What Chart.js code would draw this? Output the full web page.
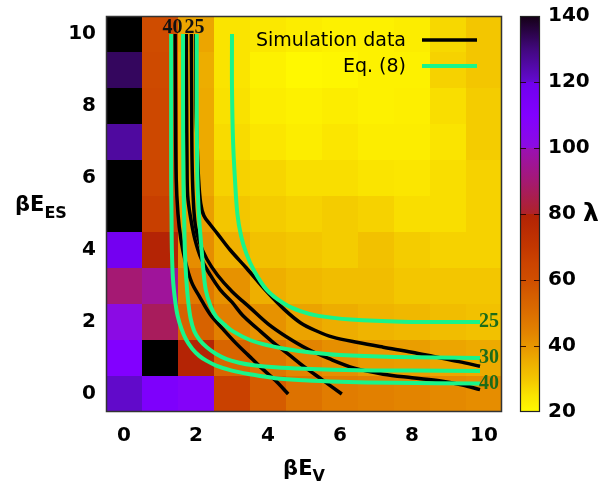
<!DOCTYPE html>
<html><head><meta charset="utf-8">
<script src="https://cdn.jsdelivr.net/npm/chart.js@4/dist/chart.umd.min.js"></script>
<style>html,body{margin:0;padding:0;background:#fff;overflow:hidden}</style>
</head><body>
<canvas id="c" width="613" height="483"></canvas>
<script>
// ---- categories / ticks ----
const xCategories = [0,1,2,3,4,5,6,7,8,9,10];
const yCategories = [0,1,2,3,4,5,6,7,8,9,10];
const axisTicks = [0,2,4,6,8,10];
const colorbarTicks = [20,40,60,80,100,120,140];

// ---- lambda values per row (beta E_ES = 0 .. 10), columns beta E_V = 0 .. 10 ----
const lambdaY0  = [121,112,108, 66, 56, 49, 46, 45, 44, 43, 42];
const lambdaY1  = [110,150, 79, 53, 48, 44,41.5,39,38.5,37, 36];
const lambdaY2  = [101, 87, 54, 45, 41,37.5,35.5,34, 33, 32, 31];
const lambdaY3  = [ 90, 96, 47, 41, 35, 33, 32, 32, 30, 30, 30];
const lambdaY4  = [118, 79, 42,34.5,31, 30, 29, 31, 29, 28, 28];
const lambdaY5  = [150, 67,38.5,30, 29, 28, 29, 28, 26, 26, 28];
const lambdaY6  = [150, 64,36.5,28,27.5,26, 26, 25,24.5,26, 28];
const lambdaY7  = [126, 63, 36,26.5,24.5,23,24.5,23, 23, 25, 29];
const lambdaY8  = [150, 63, 36,25.5,23, 22, 23, 22,22.5,26, 29];
const lambdaY9  = [133, 62,35.5,25, 22,20.5,21, 22, 22, 28, 30];
const lambdaY10 = [150, 61, 37, 25, 24, 23, 22, 22, 23, 27, 30];
const lambdaRows = [lambdaY0,lambdaY1,lambdaY2,lambdaY3,lambdaY4,lambdaY5,lambdaY6,lambdaY7,lambdaY8,lambdaY9,lambdaY10];

// ---- simulation contours (black) ----
const simCurveA = [[1.42,10],[1.43,8],[1.45,6],[1.5,5],[1.58,4.3],[1.7,3.7],[1.88,3.1],[2.1,2.7],[2.4,2.2],[2.75,1.8],[3.1,1.42],[3.45,1.08],[3.8,0.74],[4.2,0.38],[4.56,0]];
const simCurveB = [[1.73,10],[1.74,8],[1.75,6.5],[1.77,5.5],[1.85,4.9],[1.97,4.3],[2.15,3.75],[2.4,3.3],[2.67,2.9],[3.0,2.55],[3.3,2.18],[3.7,1.82],[4.1,1.47],[4.6,1.08],[5.0,0.76],[5.5,0.4],[6.05,0]];
const simCurveC = [[1.87,10],[1.88,8],[1.89,6.5],[1.92,5.5],[1.98,4.7],[2.1,4.2],[2.3,3.75],[2.6,3.3],[3.0,2.85],[3.5,2.4],[4.0,1.95],[4.5,1.6],[5.1,1.25],[5.7,0.98],[6.4,0.72],[7.2,0.55],[8.0,0.45],[8.8,0.36],[9.4,0.25],[9.89,0.12]];
const simCurveD = [[1.99,10],[2.0,8],[2.03,7],[2.07,6],[2.13,5.3],[2.22,4.95],[2.4,4.7],[2.6,4.45],[2.95,4.0],[3.4,3.5],[3.96,2.85],[4.45,2.35],[4.9,1.98],[5.35,1.75],[5.8,1.58],[6.5,1.43],[7.2,1.3],[8.0,1.16],[8.6,1.04],[9.3,0.9],[9.89,0.77]];

// ---- Eq. (8) curves (green) ----
const eqCurve40 = [[1.31,10],[1.31,8],[1.31,6],[1.32,5],[1.33,4],[1.36,3.2],[1.42,2.6],[1.49,2.17],[1.6,1.8],[1.72,1.52],[1.9,1.25],[2.09,1.06],[2.3,0.92],[2.56,0.79],[3.0,0.65],[3.5,0.55],[4.2,0.44],[5.0,0.38],[6.0,0.34],[7.5,0.31],[9.89,0.29]];
const eqCurve35 = [[1.64,10],[1.64,8],[1.65,6],[1.67,5],[1.69,4],[1.73,3.2],[1.78,2.6],[1.85,2.1],[1.95,1.75],[2.1,1.5],[2.3,1.3],[2.55,1.12],[2.85,0.97],[3.2,0.87],[3.6,0.8],[4.2,0.74],[5.0,0.7],[6.5,0.66],[8.0,0.65],[9.89,0.64]];
const eqCurve30 = [[2.02,10],[2.02,8],[2.04,6],[2.08,5],[2.14,4.2],[2.2,3.5],[2.27,2.9],[2.4,2.45],[2.56,2.15],[2.8,1.92],[3.03,1.74],[3.5,1.5],[4.0,1.35],[4.5,1.25],[5.2,1.15],[6.0,1.08],[7.5,1.03],[9.89,1.0]];
const eqCurve25 = [[3.0,10],[3.0,8.5],[3.03,7],[3.08,6],[3.15,5],[3.25,4.4],[3.4,3.9],[3.6,3.45],[3.96,2.9],[4.43,2.52],[4.9,2.3],[5.4,2.17],[6.3,2.07],[7.7,2.01],[9.89,2.0]];

// ---- contour labels ----
const topLabels = ['40','25'];
const topLabelX = [1.35,1.96];
const topLabelY = [10.18,10.18];
const sideLabels = ['25','30','40'];
const sideLabelX = [10.14,10.14,10.14];
const sideLabelY = [2.0,1.0,0.29];

// ---- palette stops (value -> rgb) ----
const paletteValues = [20,25,30,35,40,45,50,55,60,65,70,80,80.01,90,100,100.01,110,120,120.01,130,140];
const paletteColors = [[255,250,0],[250,228,0],[243,198,0],[238,175,0],[232,150,0],[226,128,0],[220,110,0],[214,95,0],[208,78,0],[203,68,0],[195,55,0],[178,34,5],[175,35,40],[165,25,115],[155,16,180],[140,12,225],[130,0,255],[112,0,238],[100,10,210],[65,8,125],[20,0,20]];

function colorFor(v){
  if (v > 140) return 'rgb(0,0,0)';
  if (v <= paletteValues[0]) return 'rgb('+paletteColors[0].join(',')+')';
  for (let k=1;k<paletteValues.length;k++){
    if (v <= paletteValues[k]){
      const t=(v-paletteValues[k-1])/(paletteValues[k]-paletteValues[k-1]);
      const a=paletteColors[k-1], b=paletteColors[k];
      return 'rgb('+a.map((c,i)=>Math.round(c+(b[i]-c)*t)).join(',')+')';
    }
  }
  return 'rgb('+paletteColors[paletteColors.length-1].join(',')+')';
}

const toPts = arr => arr.map(p=>({x:p[0],y:p[1]}));
const BLACK='#000000', GREEN='#18f58a';

const tickFont = {family:'"DejaVu Sans"', size:20, weight:'bold'};

const heatmapPlugin = {
  id:'heatmap',
  beforeDatasetsDraw(chart){
    const {ctx, scales:{x,y,cb}} = chart;
    ctx.save();
    lambdaRows.forEach((row,j)=>row.forEach((v,i)=>{
      const x0=Math.round(x.getPixelForValue(xCategories[i]-0.5));
      const x1=Math.round(x.getPixelForValue(xCategories[i]+0.5));
      const y0=Math.round(y.getPixelForValue(yCategories[j]+0.5));
      const y1=Math.round(y.getPixelForValue(yCategories[j]-0.5));
      ctx.fillStyle=colorFor(v);
      ctx.fillRect(x0,y0,x1-x0,y1-y0);
    }));
    // colorbar
    const bx = cb.left+18, bw = 20;
    const yTop = cb.getPixelForValue(140), yBot = cb.getPixelForValue(20);
    const g = ctx.createLinearGradient(0,yBot,0,yTop);
    paletteValues.forEach((v,k)=>g.addColorStop((v-20)/120,'rgb('+paletteColors[k].join(',')+')'));
    ctx.fillStyle=g;
    ctx.fillRect(bx,yTop,bw,yBot-yTop);
    ctx.strokeStyle='#222'; ctx.lineWidth=1.2;
    ctx.strokeRect(bx+0.5,yTop+0.5,bw-1,yBot-yTop-1);
    ctx.strokeStyle='rgba(30,0,0,0.85)'; ctx.lineWidth=1;
    colorbarTicks.slice(1,-1).forEach(v=>{
      const py=Math.round(cb.getPixelForValue(v))+0.5;
      ctx.beginPath();
      ctx.moveTo(bx,py); ctx.lineTo(bx+6,py);
      ctx.moveTo(bx+bw-6,py); ctx.lineTo(bx+bw,py);
      ctx.stroke();
    });
    ctx.restore();
  },
  afterDatasetsDraw(chart){
    const {ctx, chartArea:a, scales:{x,y,cb}} = chart;
    ctx.save();
    // contour labels
    ctx.font='bold 20px "Liberation Serif"';
    ctx.textAlign='center'; ctx.textBaseline='middle';
    ctx.fillStyle='#111';
    topLabels.forEach((t,k)=>ctx.fillText(t,x.getPixelForValue(topLabelX[k]),y.getPixelForValue(topLabelY[k])));
    ctx.fillStyle='#1d6b18';
    sideLabels.forEach((t,k)=>ctx.fillText(t,x.getPixelForValue(sideLabelX[k]),y.getPixelForValue(sideLabelY[k])));
    // legend
    ctx.font='19px "DejaVu Sans"';
    ctx.textAlign='right'; ctx.fillStyle='#000';
    const items=[{t:chart.data.datasets[4].label,c:BLACK,w:3.5,yy:a.top+24},{t:chart.data.datasets[0].label,c:GREEN,w:4,yy:a.top+50}];
    items.forEach(it=>{
      ctx.fillText(it.t,a.left+300,it.yy+1);
      ctx.strokeStyle=it.c; ctx.lineWidth=it.w;
      ctx.beginPath(); ctx.moveTo(a.left+316,it.yy); ctx.lineTo(a.left+371,it.yy); ctx.stroke();
    });
    ctx.restore();
  },
  afterDraw(chart){
    const {ctx, chartArea:a, scales:{cb}} = chart;
    ctx.save();
    ctx.strokeStyle='#333'; ctx.lineWidth=1.5;
    ctx.strokeRect(a.left+0.5,a.top+0.5,a.width-1,a.height-1);
    ctx.fillStyle='#000'; ctx.textBaseline='alphabetic'; ctx.textAlign='left';
    // x title
    ctx.font='bold 21px "DejaVu Sans"';
    const mainX='βE', subX='V';
    const wMain=ctx.measureText(mainX).width;
    ctx.font='bold 16px "DejaVu Sans"';
    const wSub=ctx.measureText(subX).width;
    const cx=(a.left+a.right)/2-(wMain+wSub)/2;
    ctx.font='bold 21px "DejaVu Sans"'; ctx.fillText(mainX,cx,475);
    ctx.font='bold 16px "DejaVu Sans"'; ctx.fillText(subX,cx+wMain,481);
    // y title
    ctx.font='bold 21px "DejaVu Sans"'; ctx.fillText('βE',15,211);
    const wY=ctx.measureText('βE').width;
    ctx.font='bold 16px "DejaVu Sans"'; ctx.fillText('ES',15+wY,218);
    // colorbar title
    ctx.font='bold 25px "DejaVu Sans"'; ctx.textBaseline='middle';
    ctx.fillText('λ',583,cb.getPixelForValue(80));
    ctx.restore();
  }
};

new Chart(document.getElementById('c'),{
  type:'scatter',
  data:{datasets:[
    {label:'Eq. (8)',data:toPts(eqCurve40),order:0},
    {label:'Eq. (8) 35',data:toPts(eqCurve35),order:0},
    {label:'Eq. (8) 30',data:toPts(eqCurve30),order:0},
    {label:'Eq. (8) 25',data:toPts(eqCurve25),order:0},
    {label:'Simulation data',data:toPts(simCurveA),order:1,sim:true},
    {label:'Simulation data B',data:toPts(simCurveB),order:1,sim:true},
    {label:'Simulation data C',data:toPts(simCurveC),order:1,sim:true},
    {label:'Simulation data D',data:toPts(simCurveD),order:1,sim:true}
  ].map(d=>Object.assign(d,{
    showLine:true, pointRadius:0, pointHoverRadius:0, tension:0.35,
    borderColor:d.sim?BLACK:GREEN, borderWidth:d.sim?3.5:4, backgroundColor:'transparent',
    borderCapStyle:'butt'
  }))},
  options:{
    responsive:false, devicePixelRatio:1, animation:false,
    layout:{padding:{left:0,right:0,top:16,bottom:0}},
    plugins:{legend:{display:false},tooltip:{enabled:false}},
    scales:{
      x:{type:'linear',min:-0.5,max:10.5,position:'bottom',
        grid:{display:false,drawTicks:true,tickLength:12},border:{display:false},
        afterBuildTicks:s=>{s.ticks=axisTicks.map(v=>({value:v}));},
        afterFit:s=>{s.height=71;},
        ticks:{font:tickFont,color:'#000',padding:0,maxRotation:0,autoSkip:false}},
      y:{type:'linear',min:-0.5,max:10.5,position:'left',
        grid:{display:false,drawTicks:true,tickLength:10},border:{display:false},
        afterBuildTicks:s=>{s.ticks=axisTicks.map(v=>({value:v}));},
        afterFit:s=>{s.width=106;},
        ticks:{font:tickFont,color:'#000',padding:0,autoSkip:false}},
      cb:{type:'linear',min:20,max:140,position:'right',
        grid:{display:false,drawTicks:true,tickLength:46},border:{display:false},
        afterBuildTicks:s=>{s.ticks=colorbarTicks.map(v=>({value:v}));},
        afterFit:s=>{s.width=111;},
        ticks:{font:tickFont,color:'#000',padding:0,autoSkip:false}}
    }
  },
  plugins:[heatmapPlugin]
});
</script>
</body></html>
